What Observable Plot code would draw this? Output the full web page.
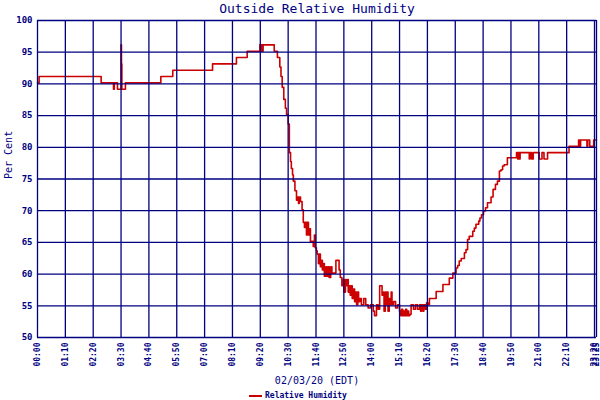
<!DOCTYPE html>
<html>
<head>
<meta charset="utf-8">
<script src="https://cdn.jsdelivr.net/npm/d3@7"></script>
<script src="https://cdn.jsdelivr.net/npm/@observablehq/plot@0.6"></script>
<style>
  html, body { margin: 0; padding: 0; background: #ffffff; }
  #wrap { width: 600px; position: relative; }
  #legend { position: relative; height: 14px; width: 600px; font-family: "DejaVu Sans Mono", monospace; font-size: 8px; font-weight: bold; color: #000080; }
  #legend .sw { position: absolute; left: 249px; top: 9px; width: 13px; height: 2px; background: #cc0000; }
  #legend .lb { position: absolute; left: 265px; top: 5px; line-height: 10px; }
</style>
</head>
<body>
<div id="wrap"></div>
<script>
// minutes after midnight
const minutes = [0,4,160,191,193,201,210,211,212,221,310,340,440,500,527,559,561,563,566,567,595,603,609,612,615,619,623,626,630,633,636,638,641,643,647,651,653,656,658,661,665,668,671,673,676,678,681,683,686,693,696,698,701,703,706,708,711,713,716,718,721,725,727,730,733,737,740,750,758,761,765,767,770,774,776,779,781,784,786,789,791,794,797,800,802,805,807,810,814,820,825,831,837,844,847,852,856,860,866,869,871,874,876,879,881,884,886,889,891,895,900,905,910,913,915,918,920,923,925,928,930,933,936,939,945,950,955,960,963,965,969,971,975,978,981,985,1002,1019,1035,1044,1052,1056,1060,1065,1073,1077,1081,1085,1094,1098,1102,1109,1112,1116,1121,1126,1131,1140,1145,1151,1156,1161,1165,1169,1173,1181,1204,1207,1209,1212,1213,1236,1238,1242,1246,1261,1268,1273,1282,1336,1360,1363,1365,1381,1383,1388,1398,1405];
// relative humidity, %
const humidity = [90,91,90,89,90,89,96,93,89,90,91,92,93,94,95,96,95,96,95,96,95,94,92.5,91,89.3,87.4,86,85,83.5,79,77.6,76.5,75.5,74.5,73,71.5,72,71,72,71.3,70,68,67.2,68,66,68,66,67,65,64.2,66,64,63.5,63,61.5,63,61,62,60.5,61.5,59.5,61,59.5,61,59.3,61,60,62,60.5,59.3,58,59,57,59,58,59,57,58,56.5,58,56,57.5,55.5,57,55,57,55.5,56,55,56,55,54.5,55,54,53.3,55,54.3,58,56.5,57,54,57,55,57,54,56,55,57,55,55.5,54.5,55,54,53.3,54.3,53.3,54,53.3,54.3,53.3,54,53.3,53.5,55,54.3,55,54.3,55,54,55,54,55,54.3,55.3,55,56,57.1,58.2,59.2,60,60.8,61.2,61.9,62.3,63.2,63.7,65.3,65.8,66.6,67.1,67.7,68.2,68.7,69.2,69.8,70.3,71.1,72,73.2,74,74.5,76.1,76.3,76.9,77.1,78.2,79,78,79,78,79,78,79,78,79,78,79,78,79,80,81,80,81,80,81,80,81,81];

const xTicks = [0,70,140,210,280,350,420,490,560,630,700,770,840,910,980,1050,1120,1190,1260,1330,1400,1405];
const yTicks = [50,55,60,65,70,75,80,85,90,95,100];
const titleText = "Outside Relative Humidity";
const yLabel = "Per Cent";
const xLabel = "02/03/20 (EDT)";
const seriesName = "Relative Humidity";

const navy = "#000080";
const red = "#cc0000";
const fmt = m => String(Math.floor(m / 60)).padStart(2, "0") + ":" + String(m % 60).padStart(2, "0");
const data = minutes.map((t, i) => ({t, h: humidity[i]}));

const chart = Plot.plot({
  width: 600,
  height: 386,
  marginLeft: 37,
  marginRight: 4,
  marginTop: 20,
  marginBottom: 49,
  style: {fontFamily: "DejaVu Sans Mono, monospace", background: "#ffffff", color: navy},
  x: {domain: [0, 1405], axis: null, label: null},
  y: {domain: [50, 100], axis: null, label: null},
  marks: [
    Plot.line(data, {x: "t", y: "h", curve: "step-after", stroke: red, strokeWidth: 1.6, dy: -1}),
    Plot.ruleX(xTicks, {x: d => d, stroke: navy, strokeWidth: 1.3}),
    Plot.ruleY(yTicks, {y: d => d, stroke: navy, strokeWidth: 1.3}),
    Plot.axisY({ticks: yTicks, label: null, tickSize: 0, tickPadding: 5, fontSize: 9, fontWeight: "bold", fill: navy}),
    Plot.axisX({ticks: xTicks, label: null, tickFormat: fmt, tickRotate: -90, tickSize: 0, tickPadding: 5, fontSize: 8, fontWeight: "bold", fill: navy}),
    Plot.text([titleText], {frameAnchor: "top", dy: -17, fontSize: 13, fill: navy, fontFamily: "DejaVu Sans Mono"}),
    Plot.text([yLabel], {frameAnchor: "left", dx: -29, rotate: -90, fontSize: 10, fill: navy, fontFamily: "DejaVu Sans Mono"}),
    Plot.text([xLabel], {frameAnchor: "bottom", dy: 46, fontSize: 10, fill: navy, fontFamily: "DejaVu Sans Mono"})
  ]
});
document.getElementById("wrap").appendChild(chart);
const lg = document.createElement("div");
lg.id = "legend";
lg.innerHTML = '<span class="sw"></span><span class="lb"></span>';
lg.querySelector(".lb").textContent = seriesName;
document.getElementById("wrap").appendChild(lg);
</script>
</body>
</html>
